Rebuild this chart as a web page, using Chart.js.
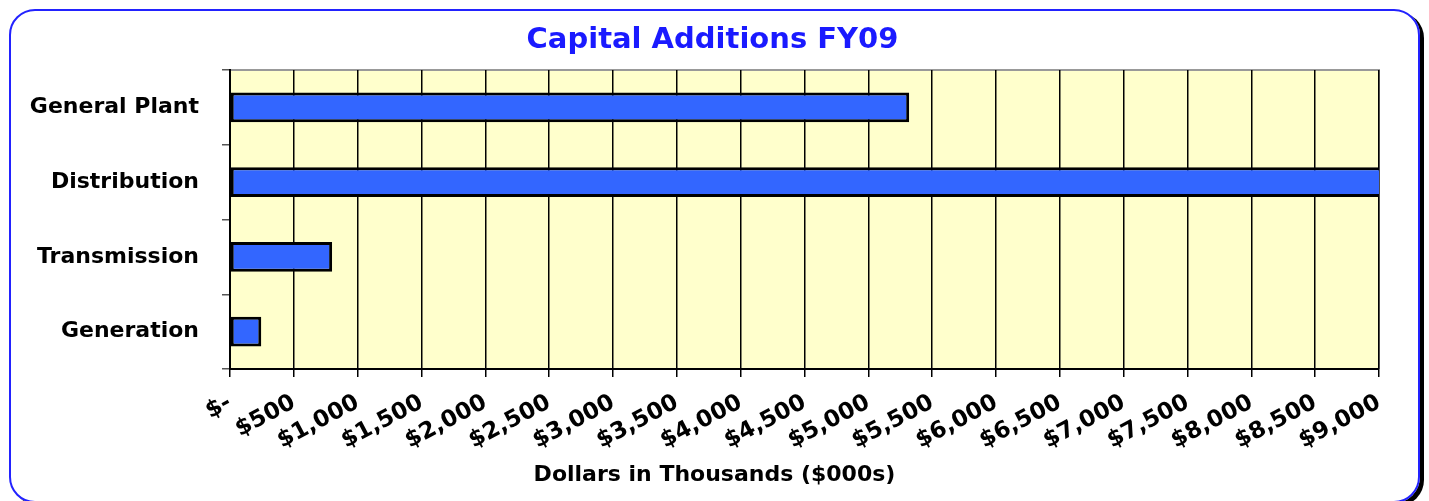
<!DOCTYPE html>
<html>
<head>
<meta charset="utf-8">
<script src="https://cdn.jsdelivr.net/npm/chart.js@4/dist/chart.umd.min.js"></script>
<style>
  html, body { margin: 0; padding: 0; background: #fff; }
  #wrap { position: relative; width: 1429px; height: 501px; }
  #frame {
    position: absolute; left: 9px; top: 9px; width: 1407px; height: 490px;
    border: 2px solid #2222ff; border-radius: 26px;
    box-shadow: 4px 3px 0 #000;
  }
  canvas { position: absolute; left: 0; top: 0; }
</style>
</head>
<body>
<div id="wrap">
  <div id="frame"></div>
  <canvas id="chart" width="1429" height="501"></canvas>
</div>
<script>
const categories = ['General Plant', 'Distribution', 'Transmission', 'Generation'];
const additions = [5320, 9500, 800, 245];
const axisMax = 9000;
const axisStep = 500;
const chartTitle = 'Capital Additions FY09';
const xTitle = 'Dollars in Thousands ($000s)';

const FONT = '"DejaVu Sans", Verdana, sans-serif';

const plotBackground = {
  id: 'plotBackground',
  beforeDraw(chart) {
    const { ctx, chartArea: a } = chart;
    ctx.save();
    ctx.fillStyle = '#FFFFCC';
    ctx.fillRect(a.left, a.top, a.width, a.height);
    ctx.strokeStyle = '#999';
    ctx.lineWidth = 2;
    ctx.beginPath();
    ctx.moveTo(a.left, a.top);
    ctx.lineTo(a.right, a.top);
    ctx.lineTo(a.right, a.bottom);
    ctx.stroke();
    ctx.restore();
  }
};

// both titles are centred on the whole frame, not on the plot
const frameTitles = {
  id: 'frameTitles',
  afterDraw(chart) {
    const { ctx, width } = chart;
    const cx = width / 2;
    ctx.save();
    ctx.textAlign = 'center';
    ctx.textBaseline = 'middle';
    ctx.font = 'bold 29px ' + FONT;
    ctx.fillStyle = '#1a1aff';
    ctx.fillText(chartTitle, cx - 2, 40);
    ctx.font = 'bold 22px ' + FONT;
    ctx.fillStyle = '#000';
    ctx.fillText(xTitle, cx, 475);
    ctx.restore();
  }
};

function money(v) {
  if (v === 0) return '$-';
  return '$' + v.toLocaleString('en-US');
}

new Chart(document.getElementById('chart'), {
  type: 'bar',
  data: {
    labels: categories,
    datasets: [{
      data: additions,
      backgroundColor: '#3366FF',
      borderColor: '#000',
      borderWidth: 3,
      borderSkipped: false,
      categoryPercentage: 0.8,
      barPercentage: 0.5
    }]
  },
  options: {
    indexAxis: 'y',
    responsive: false,
    animation: false,
    layout: { padding: { left: 10, right: 50, top: 70, bottom: 12 } },
    plugins: {
      legend: { display: false },
      tooltip: { enabled: false },
      title: { display: false }
    },
    scales: {
      x: {
        min: 0,
        max: axisMax,
        ticks: {
          stepSize: axisStep,
          autoSkip: false,
          minRotation: 28,
          maxRotation: 28,
          padding: 12,
          color: '#000',
          font: { family: FONT, size: 23, weight: 'bold' },
          callback: v => money(v)
        },
        grid: { color: '#000', lineWidth: 1.5, tickLength: 8 },
        border: { color: '#000', width: 2 },
        afterFit(scale) { scale.height = 120; }
      },
      y: {
        ticks: {
          color: '#000',
          padding: 23,
          font: { family: FONT, size: 22, weight: 'bold' }
        },
        grid: { drawOnChartArea: false, color: '#555', tickLength: 8, lineWidth: 1.5 },
        border: { color: '#000', width: 2 },
        afterFit(scale) { scale.width = 220; }
      }
    }
  },
  plugins: [plotBackground, frameTitles]
});
</script>
</body>
</html>
